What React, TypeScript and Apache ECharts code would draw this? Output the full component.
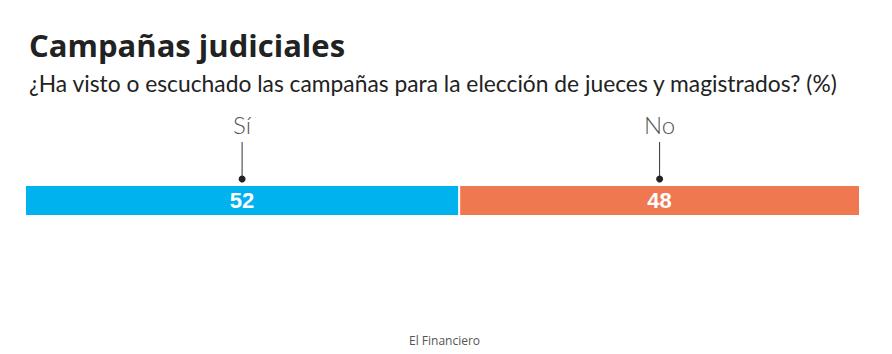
import React, { useEffect, useRef } from "react";
import * as echarts from "echarts";

const categories = ["Respuesta"];
const seriesNames = ["Sí", "No"];
const values = [52, 48];
const colors = ["#00B2EE", "#EF7850"];

const titleText = "Campañas judiciales";
const subtitleText = "¿Ha visto o escuchado las campañas para la elección de jueces y magistrados? (%)";
const sourceText = "El Financiero";

export default function App() {
  const ref = useRef<HTMLDivElement>(null);
  useEffect(() => {
    document.body.style.margin = "0";
    if (!ref.current) return;
    const chart = echarts.init(ref.current, null, { renderer: "svg" });
    const gridTop = 185;
    const barH = 31;
    chart.setOption({
      animation: false,
      backgroundColor: "#ffffff",
      title: [
        {
          text: titleText,
          left: 24,
          top: 24,
          textStyle: { fontFamily: "Open Sans", fontWeight: "bold", fontSize: 31, color: "#222222" },
        },
        {
          text: subtitleText,
          left: 24,
          top: 66,
          textStyle: { fontFamily: "Lato", fontWeight: "normal", fontSize: 22.8, color: "#222222" },
        },
        {
          text: sourceText,
          left: 404,
          top: 329,
          textStyle: { fontFamily: "Open Sans", fontWeight: "normal", fontSize: 12, color: "#555555" },
        },
      ],
      grid: { left: 25, right: 32, top: gridTop, height: barH },
      xAxis: { type: "value", min: 0, max: 100, show: false },
      yAxis: { type: "category", data: categories, show: false },
      series: values.map((v, i) => ({
        type: "bar",
        name: seriesNames[i],
        stack: "total",
        data: [v],
        barWidth: barH,
        itemStyle: { color: colors[i], borderColor: "#ffffff", borderWidth: 1 },
        label: {
          show: true,
          position: "inside",
          color: "#ffffff",
          fontFamily: "Liberation Sans",
          fontWeight: "bold",
          fontSize: 22,
          formatter: "{c}",
        },
      })),
    });

    const graphics: any[] = [];
    let acc = 0;
    values.forEach((v, i) => {
      const mid = acc + v / 2;
      acc += v;
      const p = chart.convertToPixel({ gridIndex: 0 }, [mid, categories[0]]) as number[];
      const x = p[0];
      const top = p[1] - barH / 2;
      graphics.push(
        {
          type: "text",
          x,
          y: top - 61,
          style: {
            text: seriesNames[i],
            fontFamily: "Lato",
            fontWeight: 300,
            fontSize: 24,
            fill: "#555555",
            align: "center",
            verticalAlign: "middle",
          },
        },
        {
          type: "line",
          shape: { x1: x, y1: top - 43, x2: x, y2: top - 6 },
          style: { stroke: "#333333", lineWidth: 1 },
        },
        {
          type: "circle",
          shape: { cx: x, cy: top - 6, r: 3.5 },
          style: { fill: "#222222" },
        }
      );
    });
    chart.setOption({ graphic: graphics });

    return () => chart.dispose();
  }, []);
  return <div ref={ref} style={{ width: 892, height: 354 }} />;
}
